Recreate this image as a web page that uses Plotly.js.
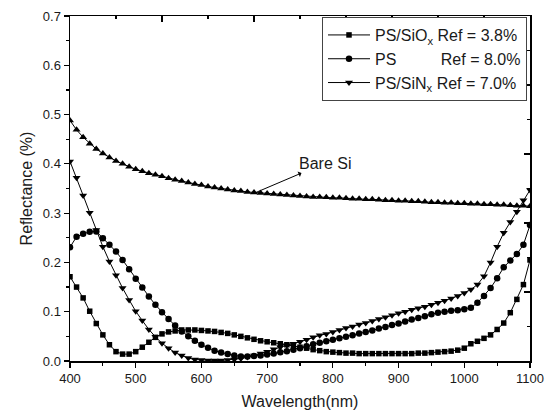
<!DOCTYPE html>
<html>
<head>
<meta charset="utf-8">
<script src="https://cdn.plot.ly/plotly-3.0.1.min.js"></script>
<style>html,body{margin:0;padding:0;background:#fff;}#chart{width:549px;height:415px;}</style>
</head>
<body>
<div id="chart"></div>
<script>
const wavelength = [400,410,420,430,440,450,460,470,480,490,500,510,520,530,540,550,560,570,580,590,600,610,620,630,640,650,660,670,680,690,700,710,720,730,740,750,760,770,780,790,800,810,820,830,840,850,860,870,880,890,900,910,920,930,940,950,960,970,980,990,1000,1010,1020,1030,1040,1050,1060,1070,1080,1090,1100];

const bareSi = [0.488,0.469,0.454,0.441,0.430,0.421,0.413,0.406,0.400,0.394,0.389,0.385,0.381,0.378,0.375,0.371,0.368,0.365,0.362,0.359,0.357,0.354,0.352,0.350,0.348,0.346,0.345,0.343,0.342,0.341,0.340,0.339,0.338,0.337,0.336,0.335,0.334,0.333,0.333,0.332,0.331,0.331,0.330,0.329,0.329,0.328,0.328,0.327,0.326,0.326,0.325,0.325,0.324,0.324,0.323,0.322,0.322,0.321,0.321,0.320,0.320,0.319,0.319,0.318,0.318,0.317,0.317,0.316,0.315,0.315,0.314];

const psSiOx = [0.171,0.150,0.128,0.101,0.076,0.053,0.033,0.019,0.014,0.014,0.019,0.028,0.038,0.048,0.055,0.059,0.061,0.063,0.063,0.063,0.062,0.061,0.060,0.058,0.056,0.053,0.050,0.047,0.044,0.041,0.039,0.037,0.035,0.033,0.031,0.028,0.026,0.023,0.021,0.019,0.018,0.017,0.016,0.016,0.015,0.015,0.015,0.015,0.015,0.015,0.015,0.015,0.015,0.016,0.016,0.017,0.018,0.019,0.020,0.022,0.026,0.035,0.040,0.046,0.053,0.064,0.077,0.098,0.125,0.155,0.205];

const ps = [0.231,0.252,0.258,0.262,0.263,0.249,0.236,0.222,0.205,0.186,0.167,0.149,0.131,0.114,0.099,0.085,0.072,0.060,0.050,0.041,0.033,0.027,0.021,0.017,0.014,0.011,0.009,0.009,0.010,0.011,0.013,0.015,0.018,0.020,0.023,0.026,0.030,0.034,0.037,0.040,0.043,0.046,0.049,0.052,0.056,0.059,0.062,0.066,0.069,0.073,0.076,0.080,0.084,0.087,0.091,0.095,0.098,0.100,0.102,0.103,0.105,0.108,0.118,0.132,0.148,0.168,0.190,0.204,0.217,0.236,0.276];

const psSiNx = [0.405,0.372,0.336,0.301,0.266,0.232,0.202,0.174,0.148,0.124,0.101,0.082,0.064,0.049,0.036,0.026,0.017,0.011,0.006,0.003,0.002,0.001,0.001,0.001,0.002,0.003,0.005,0.008,0.011,0.015,0.019,0.024,0.028,0.032,0.035,0.039,0.043,0.048,0.052,0.055,0.059,0.063,0.067,0.070,0.074,0.077,0.081,0.085,0.089,0.093,0.097,0.100,0.104,0.107,0.110,0.114,0.118,0.122,0.127,0.132,0.138,0.145,0.155,0.172,0.200,0.232,0.260,0.282,0.303,0.326,0.347];

const legendNames = [
  'PS/SiO<sub>x</sub> Ref = 3.8%',
  'PS\u00a0\u00a0\u00a0\u00a0\u00a0\u00a0\u00a0\u00a0\u00a0 Ref = 8.0%',
  'PS/SiN<sub>x</sub> Ref = 7.0%'
];
const annotationText = 'Bare Si';

const FONT = 'Liberation Sans, Arial, sans-serif';
const line = {color: '#000', width: 1};

const traces = [
  {x: wavelength, y: bareSi, mode: 'lines+markers', line: line, showlegend: false,
   marker: {symbol: 'triangle-up', size: 7, color: '#000'}, hoverinfo: 'skip'},
  {x: wavelength, y: psSiOx, mode: 'lines+markers', line: line, name: legendNames[0],
   marker: {symbol: 'square', size: 5.5, color: '#000'}},
  {x: wavelength, y: ps, mode: 'lines+markers', line: line, name: legendNames[1],
   marker: {symbol: 'circle', size: 6.5, color: '#000'}},
  {x: wavelength, y: psSiNx, mode: 'lines+markers', line: line, name: legendNames[2],
   marker: {symbol: 'triangle-down', size: 7, color: '#000'}},
  {x: [0], y: [0], xaxis: 'x2', yaxis: 'y2', mode: 'markers', marker: {opacity: 0},
   showlegend: false, hoverinfo: 'skip'}
];

const layout = {
  width: 549, height: 415,
  margin: {l: 70, r: 19, t: 16, b: 54},
  paper_bgcolor: '#fff', plot_bgcolor: '#fff',
  font: {family: FONT, color: '#1a1a1a'},
  showlegend: true,
  xaxis: {
    range: [400, 1100], dtick: 100, tick0: 400,
    ticks: 'outside', ticklen: 5, tickwidth: 1.2, tickcolor: '#000',
    minor: {dtick: 50, ticks: 'outside', ticklen: 3, tickwidth: 1.2, tickcolor: '#000'},
    showline: true, linecolor: '#000', linewidth: 1.5,
    showgrid: false, zeroline: false,
    tickfont: {size: 13, family: FONT, color: '#1a1a1a'},
    title: {text: 'Wavelength(nm)', font: {size: 16, family: FONT, color: '#1a1a1a'}, standoff: 10}
  },
  yaxis: {
    range: [0, 0.7], dtick: 0.1, tick0: 0, tickformat: '.1f',
    ticks: 'outside', ticklen: 5, tickwidth: 1.2, tickcolor: '#000',
    minor: {dtick: 0.05, ticks: 'outside', ticklen: 3, tickwidth: 1.2, tickcolor: '#000'},
    showline: true, linecolor: '#000', linewidth: 1.5,
    showgrid: false, zeroline: false,
    tickfont: {size: 13, family: FONT, color: '#1a1a1a'},
    title: {text: 'Reflectance (%)', font: {size: 16, family: FONT, color: '#1a1a1a'}, standoff: 6}
  },
  xaxis2: {
    overlaying: 'x', side: 'top', anchor: 'y', range: [0, 10],
    tickvals: [0, 2, 4, 6, 8, 10], ticks: 'inside', ticklen: 6, tickwidth: 1.2, tickcolor: '#000',
    minor: {tickvals: [1, 3, 5, 7, 9], ticks: 'inside', ticklen: 3, tickwidth: 1.2, tickcolor: '#000'},
    showticklabels: false, showline: true, linecolor: '#000', linewidth: 1.5,
    showgrid: false, zeroline: false
  },
  yaxis2: {
    overlaying: 'y', side: 'right', anchor: 'x', range: [0, 10],
    tickvals: [0, 2, 4, 6, 8, 10], ticks: 'inside', ticklen: 6, tickwidth: 1.2, tickcolor: '#000',
    minor: {tickvals: [1, 3, 5, 7, 9], ticks: 'inside', ticklen: 3, tickwidth: 1.2, tickcolor: '#000'},
    showticklabels: false, showline: true, linecolor: '#000', linewidth: 1.5,
    showgrid: false, zeroline: false
  },
  legend: {
    x: 0.9935, xanchor: 'right', y: 0.997, yanchor: 'top',
    bgcolor: '#fff', bordercolor: '#444', borderwidth: 1,
    font: {size: 16, family: FONT, color: '#1a1a1a'},
    itemwidth: 42,
    tracegroupgap: 0
  },
  annotations: [{
    x: 683, y: 0.342, xref: 'x', yref: 'y',
    ax: 788, ay: 0.4016, axref: 'x', ayref: 'y',
    text: annotationText, showarrow: true, arrowside: 'start',
    arrowhead: 2, arrowsize: 1, arrowwidth: 1, arrowcolor: '#000',
    font: {size: 16, family: FONT, color: '#1a1a1a'}
  }]
};

Plotly.newPlot('chart', traces, layout, {staticPlot: true, displayModeBar: false});
</script>
</body>
</html>
